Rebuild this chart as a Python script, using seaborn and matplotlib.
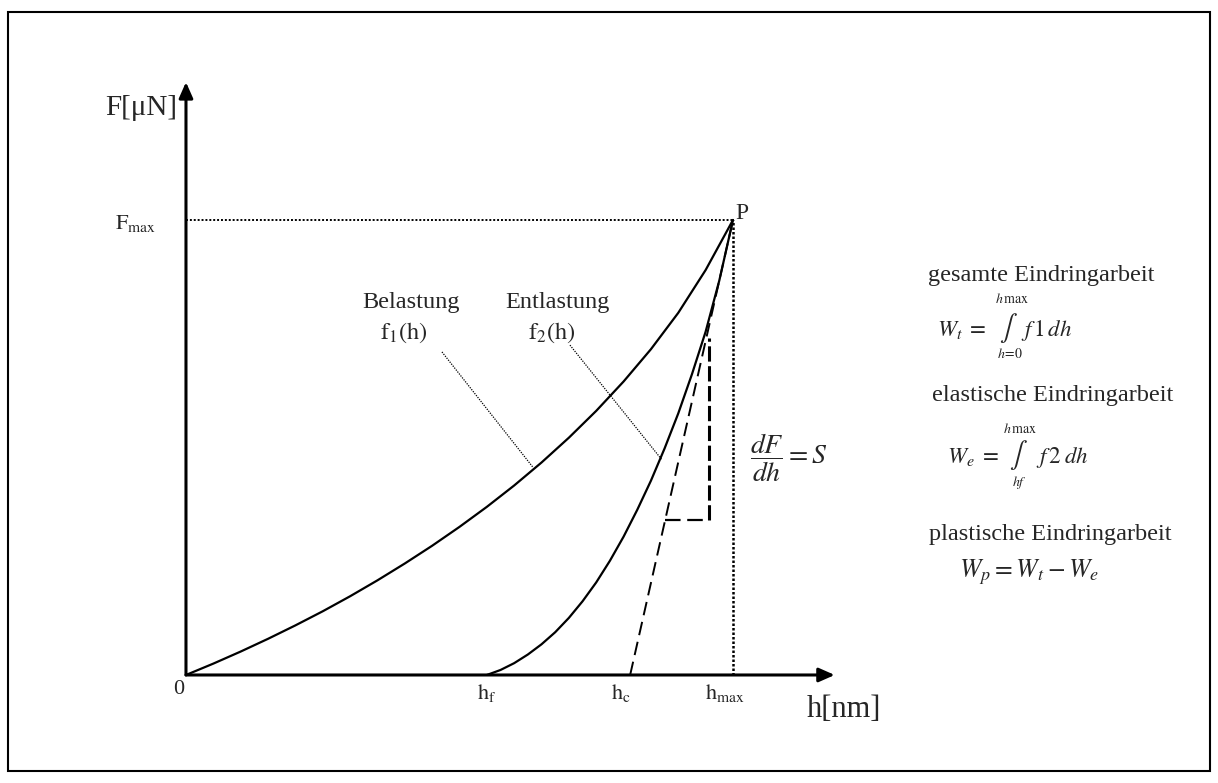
import matplotlib
matplotlib.use("Agg")
import matplotlib.pyplot as plt
import pandas as pd
import seaborn as sns
from matplotlib.patches import Rectangle

# characteristic depths [nm] and peak load [µN] of the indentation cycle
h_f = 55.0
h_c = 81.2
h_max = 100.0
F_max = 100.0

# loading branch f1(h)
load_h = [0, 5, 10, 15, 20, 25, 30, 35, 40, 45, 50,
          55, 60, 65, 70, 75, 80, 85, 90, 95, 100]
load_F = [0.0, 2.5, 5.15, 7.95, 10.9, 14.0, 17.3, 20.8, 24.5, 28.4, 32.55,
          36.95, 41.65, 46.7, 52.15, 58.05, 64.5, 71.6, 79.6, 89.0, 100.0]

# unloading branch f2(h)
unload_h = [55.0, 57.5, 60.0, 62.5, 65.0, 67.5, 70.0, 72.5, 75.0, 77.5,
            80.0, 82.5, 85.0, 87.5, 90.0, 92.5, 95.0, 97.5, 100.0]
unload_F = [0.0, 1.1, 2.6, 4.5, 6.75, 9.4, 12.55, 16.2, 20.35, 25.1,
            30.4, 36.3, 42.7, 49.8, 57.5, 66.1, 75.45, 86.7, 100.0]

# tangent to the unloading branch at P (contact stiffness S)
tangent_h = [h_c, h_max]
tangent_F = [0.0, F_max]

# slope triangle on the tangent
tri_h = [87.6, 95.6, 95.6]
tri_F = [34.1, 34.1, 74.1]

# leader lines from the curve names to the curves
lead_load_h = [46.8, 63.4]
lead_load_F = [71.0, 45.7]
lead_unload_h = [70.2, 87.0]
lead_unload_F = [72.5, 47.3]

# length of the drawn axes
h_axis_end = 118.6
F_axis_end = 130.3

sns.set_theme(style="white")
plt.rcParams["font.family"] = ["Liberation Serif", "DejaVu Serif"]
plt.rcParams["mathtext.fontset"] = "stix"

fig = plt.figure(figsize=(12.18, 7.83), dpi=100)
ax = fig.add_axes([0, 0, 1, 1])
ax.set_xlim(-34.0, 188.67)
ax.set_ylim(-23.74, 148.35)
ax.axis("off")

load = pd.DataFrame({"h": load_h, "F": load_F})
unload = pd.DataFrame({"h": unload_h, "F": unload_F})
sns.lineplot(data=load, x="h", y="F", sort=False, estimator=None,
             color="black", lw=1.6, ax=ax)
sns.lineplot(data=unload, x="h", y="F", sort=False, estimator=None,
             color="black", lw=1.6, ax=ax)

# tangent and slope triangle
ax.plot(tangent_h, tangent_F, color="black", lw=1.4, ls=(0, (7, 3.5)))
ax.plot(tri_h[:2], tri_F[:2], color="black", lw=1.6, ls=(0, (7, 3)))
ax.plot(tri_h[1:], tri_F[1:], color="black", lw=2.2, ls=(0, (5, 1.5)))

# guides to P
ax.plot([0, h_max], [F_max, F_max], color="black", lw=1.4, ls=(0, (1, 1)))
ax.plot([h_max, h_max], [0, F_max], color="black", lw=1.8, ls=(0, (1, 0.8)))

# leader lines
ax.plot(lead_load_h, lead_load_F, color="black", lw=0.9, ls=(0, (1, 1)))
ax.plot(lead_unload_h, lead_unload_F, color="black", lw=0.9, ls=(0, (1, 1)))

# axes with arrow heads
arrow = dict(arrowstyle="-|>,head_length=0.95,head_width=0.42", lw=2.2,
             color="black", mutation_scale=10, shrinkA=0, shrinkB=0)
ax.annotate("", xy=(h_axis_end, 0), xytext=(0, 0), arrowprops=arrow)
ax.annotate("", xy=(0, F_axis_end), xytext=(0, 0), arrowprops=arrow)

# axis and point labels
ax.text(-8.2, 124.6, "F[μN]", fontsize=21, ha="center", va="center")
ax.text(120.3, -7.5, "h[nm]", fontsize=22, ha="center", va="center")
ax.text(-1.3, -3.3, "0", fontsize=16, ha="center", va="center")
ax.text(-9.3, 99.2, r"$\mathrm{F_{max}}$", fontsize=16, ha="center", va="center")
ax.text(h_f, -4.0, r"$\mathrm{h_f}$", fontsize=16, ha="center", va="center")
ax.text(79.5, -4.0, r"$\mathrm{h_c}$", fontsize=16, ha="center", va="center")
ax.text(98.5, -4.0, r"$\mathrm{h_{max}}$", fontsize=16, ha="center", va="center")
ax.text(101.7, 101.5, "P", fontsize=17, ha="center", va="center")

ax.text(41.1, 81.8, "Belastung", fontsize=17.5, ha="center", va="center")
ax.text(39.7, 75.2, r"$\mathrm{f_1(h)}$", fontsize=17.5, ha="center", va="center")
ax.text(68.0, 81.8, "Entlastung", fontsize=17.5, ha="center", va="center")
ax.text(66.9, 75.2, r"$\mathrm{f_2(h)}$", fontsize=17.5, ha="center", va="center")

ax.text(110.1, 47.7, r"$\dfrac{dF}{dh} = S$", fontsize=20, ha="center", va="center")

# work of indentation
ax.text(156.3, 87.7, "gesamte Eindringarbeit", fontsize=17.5, ha="center", va="center")
ax.text(141.7, 75.8, r"$W_t\;=$", fontsize=16.5, ha="center", va="center")
ax.text(150.3, 76.3, r"$\int$", fontsize=19, ha="center", va="center")
ax.text(151.0, 82.6, r"$h\,\mathrm{max}$", fontsize=10, ha="center", va="center")
ax.text(150.6, 70.6, r"$h\!=\!0$", fontsize=10, ha="center", va="center")
ax.text(157.4, 75.8, r"$f\,1\,dh$", fontsize=16.5, ha="center", va="center")

ax.text(158.5, 61.5, "elastische Eindringarbeit", fontsize=17.5, ha="center", va="center")
ax.text(143.9, 47.9, r"$W_e\;=$", fontsize=16.5, ha="center", va="center")
ax.text(152.1, 48.4, r"$\int$", fontsize=19, ha="center", va="center")
ax.text(152.5, 54.0, r"$h\,\mathrm{max}$", fontsize=10, ha="center", va="center")
ax.text(152.3, 42.3, r"$hf$", fontsize=10, ha="center", va="center")
ax.text(160.3, 47.9, r"$f\,2\;dh$", fontsize=16.5, ha="center", va="center")

ax.text(158.1, 30.8, "plastische Eindringarbeit", fontsize=17.5, ha="center", va="center")
ax.text(154.1, 22.6, r"$W_p = W_t - W_e$", fontsize=18.5, ha="center", va="center")

# frame around the figure
fig.patches.append(Rectangle((8 / 1218, 12 / 783), 1202 / 1218, 759 / 783,
                             transform=fig.transFigure, fill=False,
                             lw=1.5, ec="black"))

fig.savefig("out.png", dpi=100)
